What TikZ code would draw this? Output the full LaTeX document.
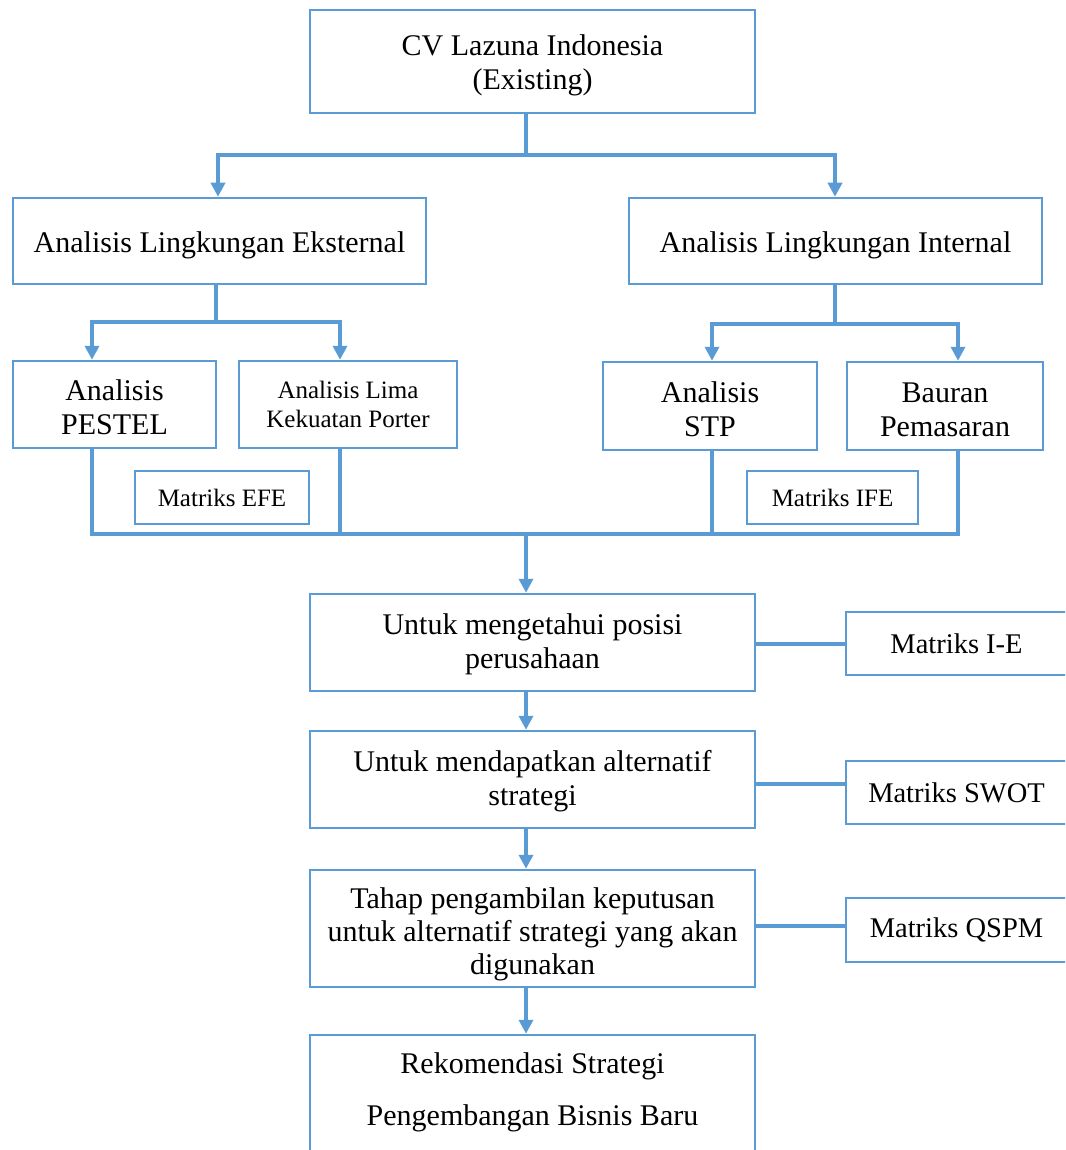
\documentclass[tikz,border=0pt]{standalone}
\usepackage{fontspec}
\setmainfont{Liberation Serif}
\usetikzlibrary{arrows.meta}
\definecolor{lineblue}{RGB}{91,155,213}
\newcommand\tdn[1]{\rule{0pt}{#1}}
\begin{document}
\begin{tikzpicture}[x=1pt,y=-1pt,
  box/.style={draw=lineblue, line width=2.5pt, rectangle, inner sep=0pt, align=center,
    font=\fontsize{30}{34}\selectfont},
  smalltext/.style={font=\fontsize{25}{29}\selectfont},
  sidetext/.style={font=\fontsize{28.5}{33}\selectfont},
  conn/.style={draw=lineblue, line width=4pt},
  sideconn/.style={draw=lineblue, line width=4.5pt},
  arr/.style={conn, -{Triangle[width=14pt,length=14pt]}},
]
\useasboundingbox (0,0) rectangle (1065,1150);
\clip (0,0) rectangle (1065,1150);

% main boxes
\node[box, minimum width=445pt, minimum height=103pt] (top) at (532.5,61.5) {\tdn{28.5pt}CV Lazuna Indonesia\\(Existing)};
\node[box, minimum width=413pt, minimum height=86pt] (ext) at (219.5,241) {\tdn{28.5pt}Analisis Lingkungan Eksternal};
\node[box, minimum width=413pt, minimum height=86pt] (int) at (835.5,241) {\tdn{28.5pt}Analisis Lingkungan Internal};

\node[box, minimum width=203pt, minimum height=87pt] (pestel) at (114.5,404.5) {\tdn{27pt}Analisis\\PESTEL};
\node[box, smalltext, minimum width=218pt, minimum height=87pt] (porter) at (348,404.5) {Analisis Lima\\Kekuatan Porter};
\node[box, minimum width=214pt, minimum height=88pt] (stp) at (710,406) {\tdn{26.5pt}Analisis\\STP};
\node[box, minimum width=196pt, minimum height=88pt] (bauran) at (945,406) {\tdn{27.5pt}Bauran\\Pemasaran};

\node[box, smalltext, minimum width=174pt, minimum height=53pt] (efe) at (222,497.5) {Matriks EFE};
\node[box, smalltext, minimum width=171pt, minimum height=53pt] (ife) at (832.5,497.5) {Matriks IFE};

\node[box, minimum width=445pt, minimum height=97pt] (pos) at (532.5,642.5) {\tdn{24.5pt}Untuk mengetahui posisi\\perusahaan};
\node[box, minimum width=445pt, minimum height=97pt] (alt) at (532.5,779.5) {\tdn{24.5pt}Untuk mendapatkan alternatif\\strategi};
\node[box, font=\fontsize{30}{33}\selectfont, minimum width=445pt, minimum height=117pt] (dec) at (532.5,928.5) {\tdn{32pt}Tahap pengambilan keputusan\\untuk alternatif strategi yang akan\\digunakan};
\node[box, minimum width=445pt, minimum height=130pt] (rec) at (532.5,1100) {};
\node[align=center, inner sep=0pt, font=\fontsize{30}{52}\selectfont] (recText) at (532.5,1092) {Rekomendasi Strategi\\Pengembangan Bisnis Baru};

% side matrices
\node[box, sidetext, minimum width=221pt, minimum height=63pt] (ie) at (956.5,643.5) {Matriks I-E};
\node[box, sidetext, minimum width=221pt, minimum height=63pt] (swot) at (956.5,792.5) {Matriks SWOT};
\node[box, sidetext, minimum width=221pt, minimum height=64pt] (qspm) at (956.5,930) {Matriks QSPM};

% junction points
\coordinate (j1) at (526,155);
\coordinate (j2) at (216,322);
\coordinate (j3) at (835,324);
\coordinate (bus) at (526,534);

% top split
\draw[conn] ([xshift=-6.5pt]top.south) -- (j1);
\draw[arr] (j1) -| ([xshift=-1.5pt]ext.north);
\draw[arr] (j1) -| ([xshift=-0.5pt]int.north);

% external split
\draw[conn] ([xshift=-3.5pt]ext.south) -- (j2);
\draw[arr] (j2) -| ([xshift=-22.5pt]pestel.north);
\draw[arr] (j2) -| ([xshift=-8pt]porter.north);

% internal split
\draw[conn] ([xshift=-0.5pt]int.south) -- (j3);
\draw[arr] (j3) -| ([xshift=2pt]stp.north);
\draw[arr] (j3) -| ([xshift=13pt]bauran.north);

% collector bus
\draw[conn] ([xshift=-22.5pt]pestel.south) |- (bus) -| ([xshift=13pt]bauran.south);
\draw[conn] ([xshift=-8pt]porter.south) -- ([xshift=-8pt]porter.south |- bus);
\draw[conn] ([xshift=2pt]stp.south) -- ([xshift=2pt]stp.south |- bus);
\draw[arr] (bus) -- ([xshift=-6.5pt]pos.north);

% main chain
\draw[arr] ([xshift=-6.5pt]pos.south) -- ([xshift=-6.5pt]alt.north);
\draw[arr] ([xshift=-6.5pt]alt.south) -- ([xshift=-6.5pt]dec.north);
\draw[arr] ([xshift=-6.5pt]dec.south) -- ([xshift=-6.5pt]rec.north);

% side connectors
\draw[sideconn] ([yshift=-1.5pt]pos.east) -- ([yshift=-1.5pt]pos.east -| ie.west);
\draw[sideconn] ([yshift=-4.5pt]alt.east) -- ([yshift=-4.5pt]alt.east -| swot.west);
\draw[sideconn] ([yshift=2.5pt]dec.east) -- ([yshift=2.5pt]dec.east -| qspm.west);
\end{tikzpicture}
\end{document}
